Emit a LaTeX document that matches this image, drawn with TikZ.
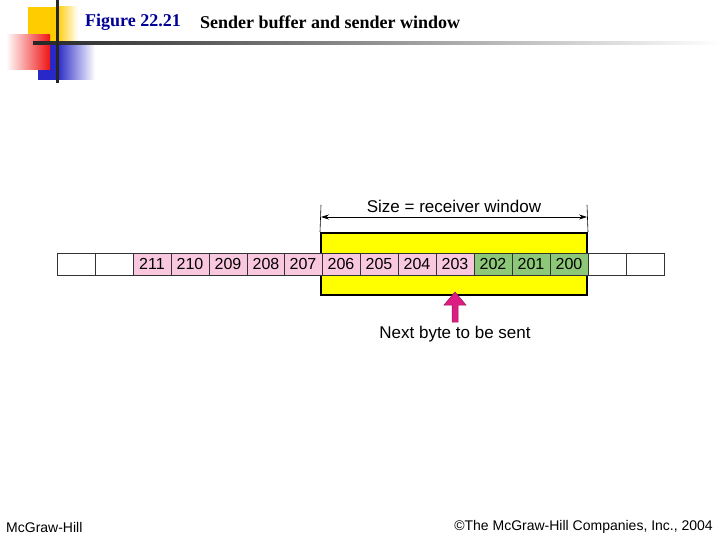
\documentclass[tikz,border=0pt]{standalone}
\usepackage{fontspec}
\setmainfont{Liberation Serif}
\newfontfamily\arialfont{Liberation Sans}
\usepackage{tikz}
\usetikzlibrary{arrows,arrows.meta,positioning}
\definecolor{cellpink}{RGB}{250,200,222}
\definecolor{cellgreen}{RGB}{140,200,120}
\definecolor{winyellow}{RGB}{255,255,0}
\definecolor{ptrpink}{RGB}{220,30,130}
\definecolor{titleblue}{RGB}{0,0,150}
\definecolor{decoyellow}{RGB}{255,204,0}
\definecolor{decored}{RGB}{240,20,20}
\definecolor{decoblue}{RGB}{40,40,200}

\tikzset{
  cell/.style={draw=black!80, line width=0.8pt, minimum width=38pt, minimum height=22pt,
    inner sep=0pt, font=\arialfont\fontsize{16}{16}\selectfont},
  window/.style={draw=black, line width=2pt, fill=winyellow, minimum width=266pt,
    minimum height=62pt, inner sep=0pt},
  label/.style={font=\arialfont\fontsize{17}{17}\selectfont, inner sep=0pt},
  pointer/.style={draw=ptrpink!70!black, fill=ptrpink, line width=0.5pt},
}

\begin{document}
\begin{tikzpicture}[x=1pt, y=-1pt, >={Stealth[length=8pt,width=5pt]}]
  \useasboundingbox (0,0) rectangle (720,540);

  % Slide decoration
  \fill[decoyellow] (28,7) rectangle (57,43);
  \shade[left color=decoyellow, right color=white] (57,7) rectangle (78,43);
  \fill[decoblue] (38,43) rectangle (57,80);
  \shade[left color=decoblue, right color=white] (57,43) rectangle (95,80);
  \shade[left color=white, right color=decored] (6,35) rectangle (50,70);
  \shade[left color=black!85, right color=white] (33,41.5) rectangle (720,44.5);
  \fill[black!85] (55.5,0) rectangle (58.5,83);

  % Title
  \node[anchor=west, font=\bfseries\fontsize{18}{18}\selectfont, text=titleblue, inner sep=0pt]
    (fig) at (85,22) {Figure 22.21};
  \node[anchor=west, font=\bfseries\fontsize{18}{18}\selectfont, inner sep=0pt]
    (title) at (200,22) {Sender buffer and sender window};

  % Sender window
  \node[window] (win) at (454,264) {};

  % Buffer
  \node[cell] (e1) at (76,264) {};
  \node[cell] (e2) at (114,264) {};
  \node[cell, fill=cellpink] (c211) at (152,264) {211};
  \node[cell, fill=cellpink] (c210) at (190,264) {210};
  \node[cell, fill=cellpink] (c209) at (228,264) {209};
  \node[cell, fill=cellpink] (c208) at (266,264) {208};
  \node[cell, fill=cellpink] (c207) at (303,264) {207};
  \node[cell, fill=cellpink] (c206) at (341,264) {206};
  \node[cell, fill=cellpink] (c205) at (379,264) {205};
  \node[cell, fill=cellpink] (c204) at (417,264) {204};
  \node[cell, fill=cellpink] (c203) at (455,264) {203};
  \node[cell, fill=cellgreen] (c202) at (493,264) {202};
  \node[cell, fill=cellgreen] (c201) at (531,264) {201};
  \node[cell, fill=cellgreen] (c200) at (569,264) {200};
  \node[cell] (e3) at (607,264) {};
  \node[cell] (e4) at (645,264) {};

  % Window size
  \coordinate (sl) at (321,205);
  \coordinate (sr) at (587,205);
  \draw[line width=0.6pt] (sl) -- (win.north west);
  \draw[line width=0.6pt] (sr) -- (win.north east);
  \draw[<->, line width=0.6pt] ([yshift=-12pt]sl) -- ([yshift=-12pt]sr);
  \node[label] (size) at (454,206) {Size = receiver window};

  % Next byte pointer
  \node[label] (next) at (455,334) {Next byte to be sent};
  \draw[pointer] (452,322) -- (458,322) -- (458,305) -- (466,305) -- (455,292)
    -- (444,305) -- (452,305) -- cycle;

  % Footer
  \node[anchor=west, font=\arialfont\fontsize{14}{14}\selectfont, inner sep=0pt]
    (pub) at (6,527) {McGraw-Hill};
  \node[anchor=east, font=\arialfont\fontsize{14}{14}\selectfont, inner sep=0pt]
    (copy) at (713,527) {©The McGraw-Hill Companies, Inc., 2004};
\end{tikzpicture}
\end{document}
